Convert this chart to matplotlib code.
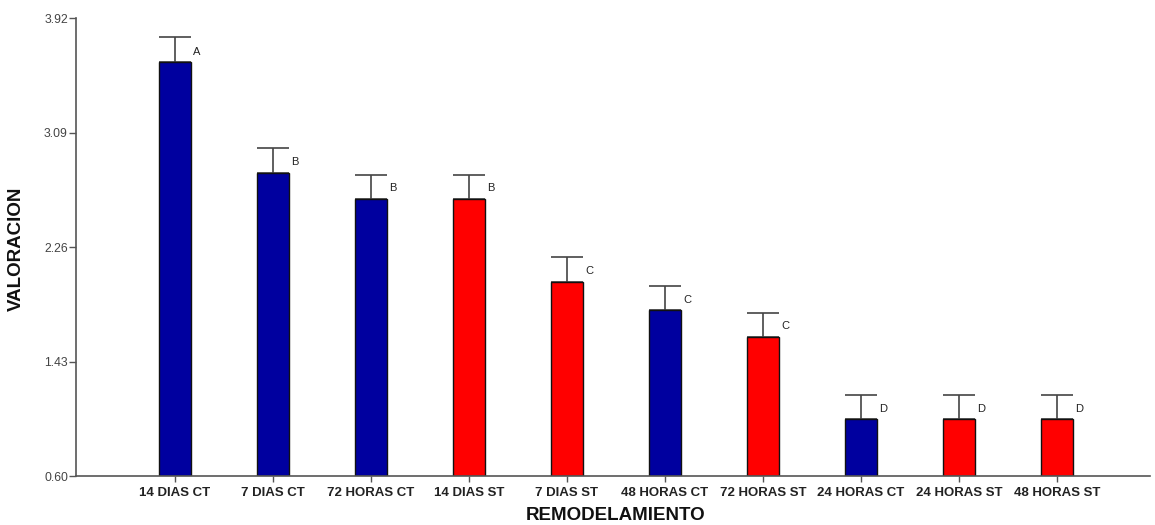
import matplotlib
matplotlib.use("Agg")
import matplotlib.pyplot as plt
from matplotlib.ticker import FixedLocator, FormatStrFormatter

plt.rcParams['font.family'] = ['Liberation Sans', 'DejaVu Sans']

categories = ["14 DIAS CT", "7 DIAS CT", "72 HORAS CT", "14 DIAS ST", "7 DIAS ST",
              "48 HORAS CT", "72 HORAS ST", "24 HORAS CT", "24 HORAS ST", "48 HORAS ST"]
means = [3.60, 2.80, 2.61, 2.61, 2.01, 1.80, 1.61, 1.01, 1.01, 1.01]
errors = [0.18, 0.18, 0.175, 0.175, 0.175, 0.175, 0.175, 0.175, 0.175, 0.175]
groups = ["A", "B", "B", "B", "C", "C", "C", "D", "D", "D"]
treatment = ["CT", "CT", "CT", "ST", "ST", "CT", "ST", "CT", "ST", "ST"]
y_ticks = [0.60, 1.43, 2.26, 3.09, 3.92]

palette = {"CT": "#00009F", "ST": "#FF0000"}
colors = [palette[t] for t in treatment]

fig = plt.figure(figsize=(11.55, 5.25), dpi=100)
ax = fig.add_axes([0.0658, 0.0933, 0.9299, 0.8724])

x = list(range(len(categories)))
ax.bar(x, [m - y_ticks[0] for m in means], bottom=y_ticks[0], width=0.33,
       color=colors, edgecolor="#111111", linewidth=1.0, zorder=2)
ax.errorbar(x, means, yerr=[[0] * len(errors), errors], fmt="none",
            ecolor="#444444", elinewidth=1.2, capsize=11.7, capthick=1.2, zorder=1)

for xi, m, g in zip(x, means, groups):
    ax.text(xi + 0.185, m + 0.075, g, fontsize=8, color="#222222",
            ha="left", va="center")

ax.set_xlim(-1.01, 9.95)
ax.set_ylim(y_ticks[0], y_ticks[-1])
ax.yaxis.set_major_locator(FixedLocator(y_ticks))
ax.yaxis.set_major_formatter(FormatStrFormatter("%.2f"))
ax.set_xticks(x)
ax.set_xticklabels(categories, fontsize=9.5, fontweight="bold", color="#222222")

for lbl in ax.get_yticklabels():
    lbl.set_fontsize(8.8)
    lbl.set_color("#444444")

for side in ("top", "right"):
    ax.spines[side].set_visible(False)
for side in ("left", "bottom"):
    ax.spines[side].set_color("#555555")
    ax.spines[side].set_linewidth(1.2)
ax.tick_params(axis="x", direction="out", length=4, width=1.0, color="#555555", pad=4)
ax.tick_params(axis="y", direction="out", length=5, width=1.0, color="#555555", pad=0.8)

ax.set_xlabel("REMODELAMIENTO", fontsize=13.5, fontweight="bold", color="#111111")
ax.set_ylabel("VALORACION", fontsize=13.5, fontweight="bold", color="#111111")
ax.xaxis.set_label_coords(0.502, -0.068)
ax.yaxis.set_label_coords(-0.0475, 0.497)

fig.savefig("out.png", dpi=100)
